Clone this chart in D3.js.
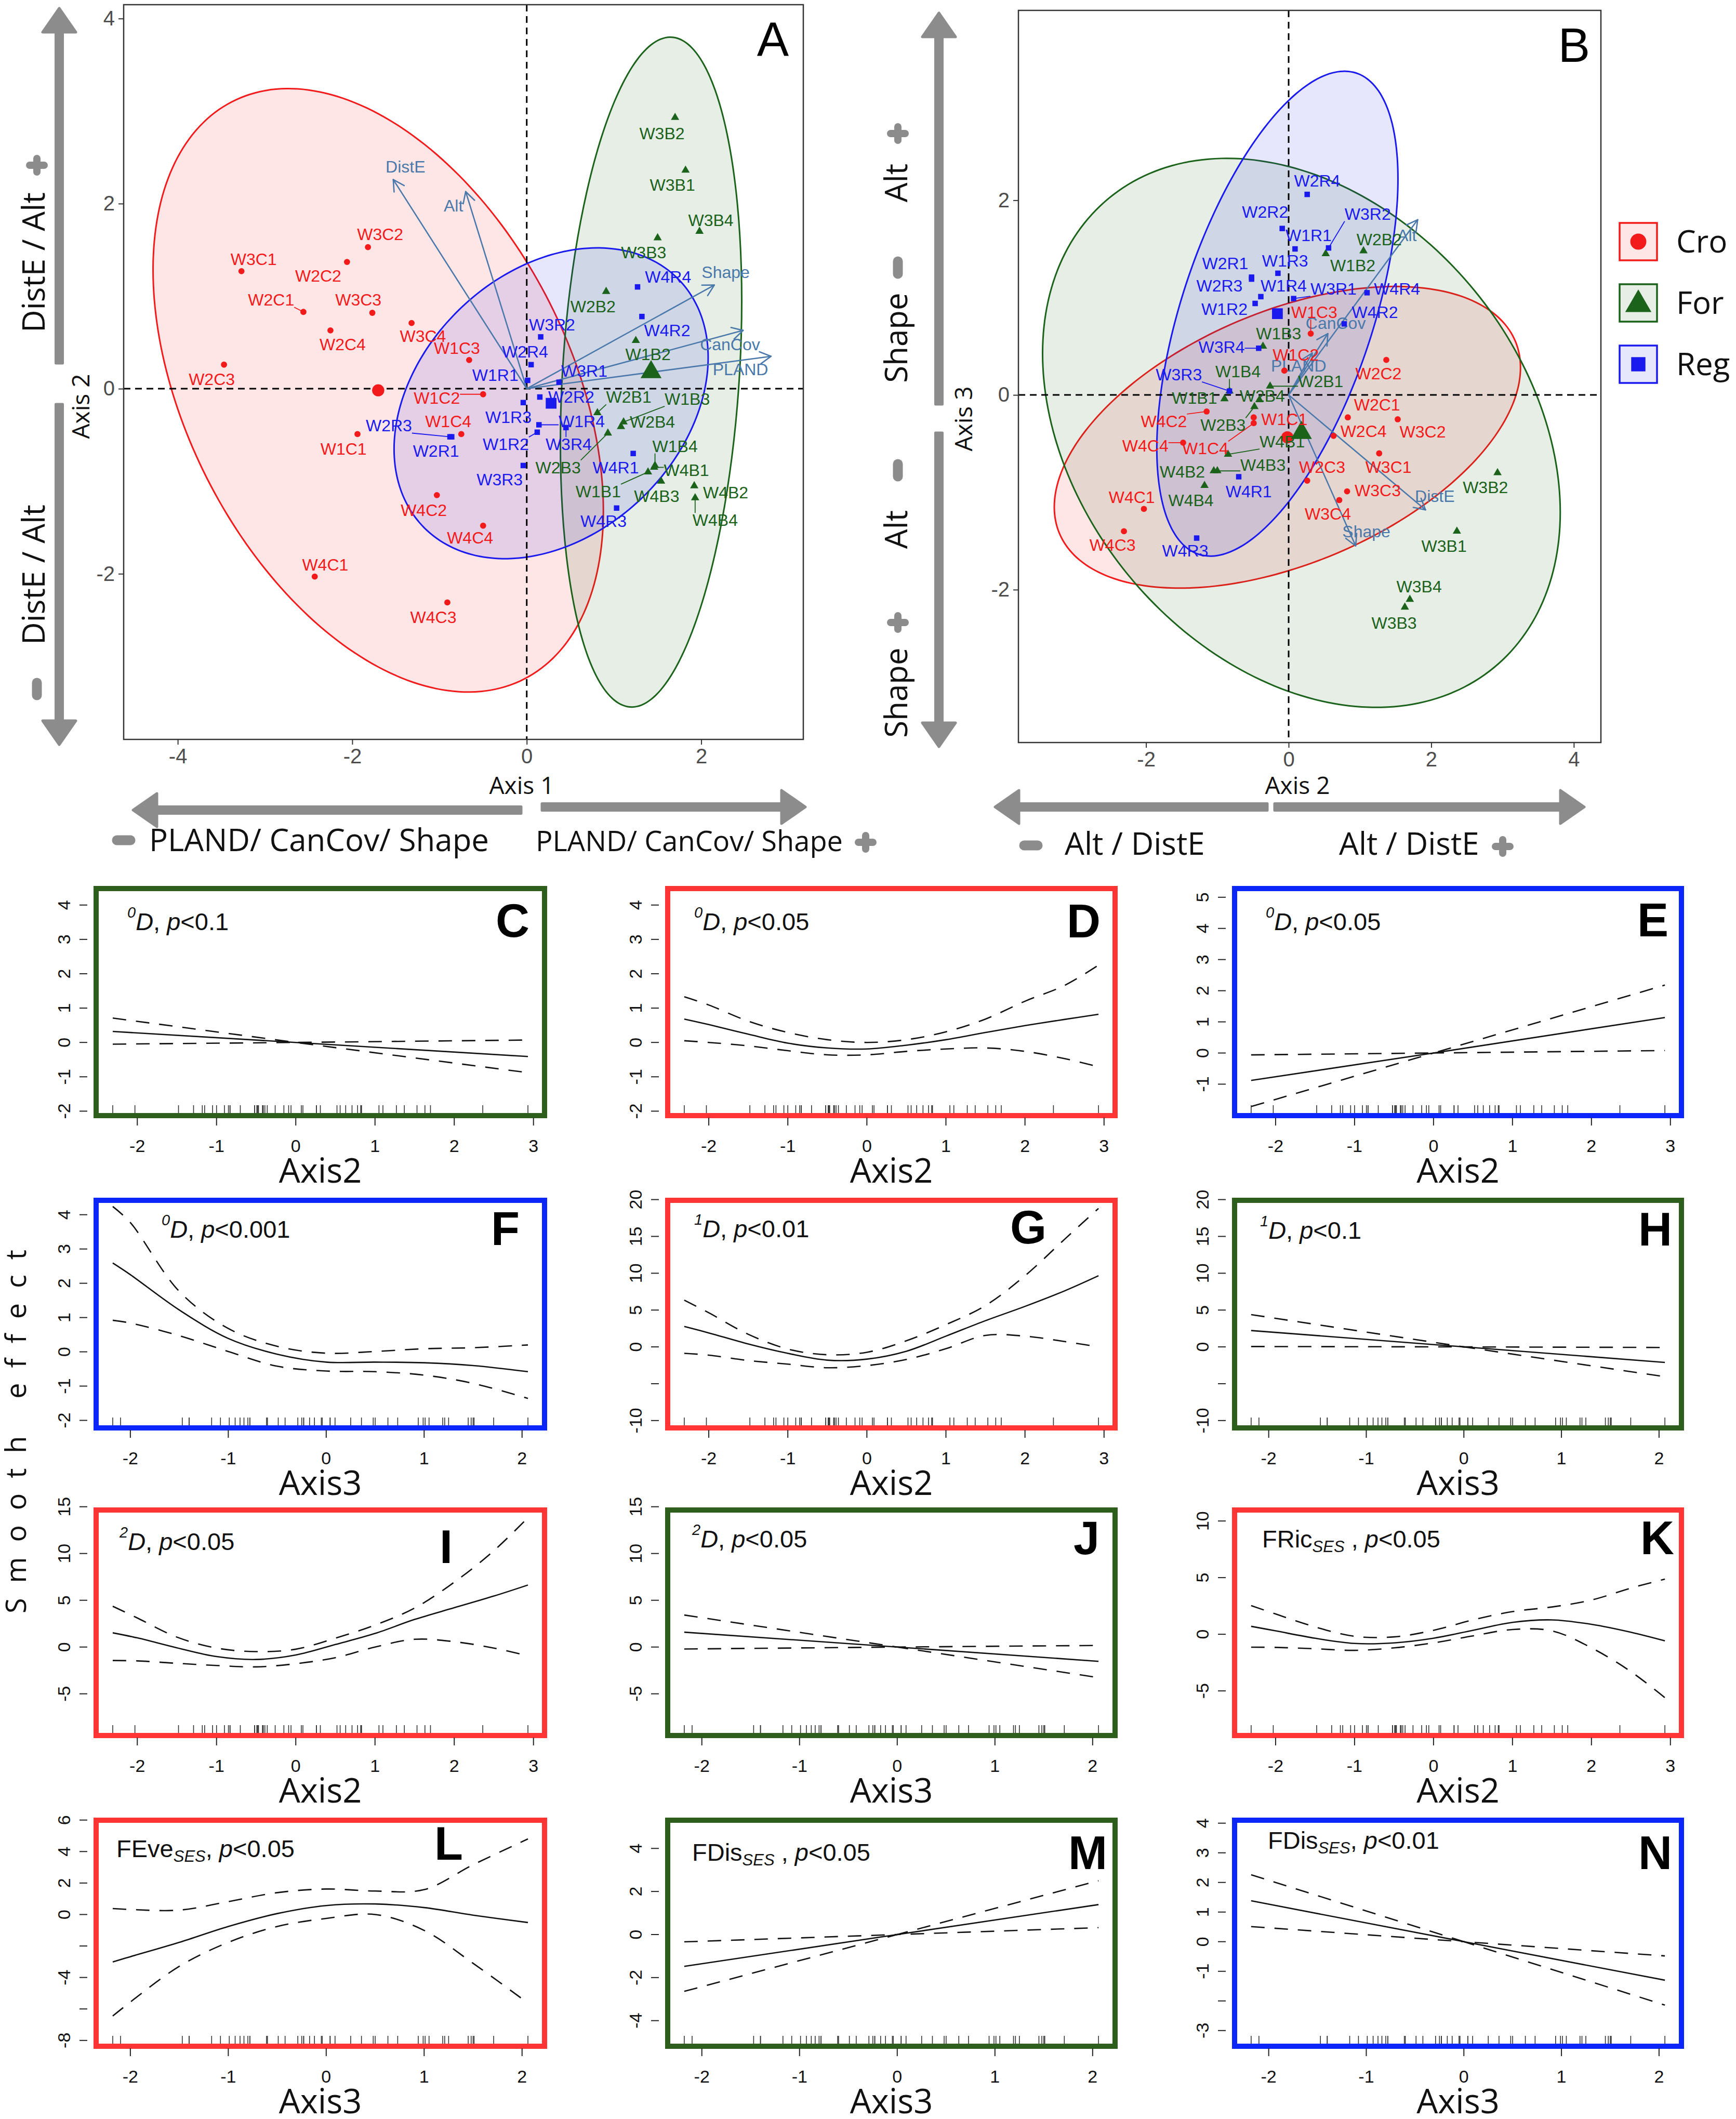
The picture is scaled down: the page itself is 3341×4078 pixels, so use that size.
<!DOCTYPE html>
<html>
<head>
<meta charset="utf-8">
<title>Habitat PCA and smooth effects</title>
<script src="https://cdn.jsdelivr.net/npm/d3@7"></script>
<style>
  body { margin: 0; background: #fff; }
  svg { display: block; }
  text { white-space: pre; font-variant-ligatures: none; }
</style>
</head>
<body>
<svg id="fig" width="3341" height="4078"></svg>
<script>
// site scores on the first three PCA axes: id, habitat, Axis1, Axis2, Axis3
const sites = [
  ["W3C1","Cro",-3.27, 1.27,-0.60], ["W3C2","Cro",-1.82, 1.53,-0.25],
  ["W2C2","Cro",-2.06, 1.37, 0.36], ["W2C1","Cro",-2.56, 0.83,-0.23],
  ["W3C3","Cro",-1.77, 0.82,-0.99], ["W2C4","Cro",-2.25, 0.63,-0.42],
  ["W3C4","Cro",-1.32, 0.71,-1.08], ["W2C3","Cro",-3.47, 0.26,-0.88],
  ["W1C3","Cro",-0.66, 0.31, 0.63], ["W1C2","Cro",-0.50,-0.06, 0.25],
  ["W1C4","Cro",-0.75,-0.49,-0.29], ["W1C1","Cro",-1.94,-0.49,-0.23],
  ["W4C2","Cro",-1.03,-1.15,-0.17], ["W4C4","Cro",-0.50,-1.48,-0.49],
  ["W4C1","Cro",-2.43,-2.03,-1.17], ["W4C3","Cro",-0.91,-2.31,-1.40],
  ["W3B2","For", 1.70, 2.93,-0.80], ["W3B1","For", 1.82, 2.36,-1.40],
  ["W3B4","For", 1.98, 1.70,-2.10], ["W3B3","For", 1.50, 1.63,-2.18],
  ["W2B2","For", 0.91, 1.05, 1.48], ["W1B2","For", 1.25, 0.52, 1.45],
  ["W2B1","For", 0.81,-0.26, 0.09], ["W1B3","For", 1.11,-0.36, 0.50],
  ["W2B4","For", 1.08,-0.41,-0.05], ["W2B3","For", 0.93,-0.48,-0.12],
  ["W1B4","For", 1.47,-0.83, 0.04], ["W4B1","For", 1.46,-0.85,-0.61],
  ["W1B1","For", 1.39,-0.90,-0.04], ["W4B3","For", 1.54,-1.00,-0.78],
  ["W4B2","For", 1.92,-1.05,-0.78], ["W4B4","For", 1.93,-1.18,-0.93],
  ["W4R4","Reg", 1.27, 1.10, 1.05], ["W4R2","Reg", 1.32, 0.78, 0.73],
  ["W3R2","Reg", 0.16, 0.56, 1.51], ["W2R4","Reg", 0.05, 0.26, 2.06],
  ["W1R1","Reg", 0.01, 0.09, 1.50], ["W3R1","Reg", 0.37, 0.07, 0.99],
  ["W2R2","Reg", 0.15,-0.09, 1.71], ["W1R3","Reg",-0.04,-0.15, 1.25],
  ["W1R4","Reg", 0.14,-0.39, 1.01], ["W1R2","Reg", 0.12,-0.47, 0.94],
  ["W3R4","Reg", 0.45,-0.42, 0.48], ["W2R3","Reg",-0.88,-0.52, 1.19],
  ["W2R1","Reg",-0.86,-0.52, 1.21], ["W4R1","Reg", 1.22,-0.70,-0.84],
  ["W3R3","Reg",-0.04,-0.83, 0.04], ["W4R3","Reg", 1.03,-1.29,-1.47]
];

// repelled label spots, in axis units (A: Axis1/Axis2, B: Axis2/Axis3)
const labA = {
  W3C1:[-3.13,1.40], W3C2:[-1.68,1.67], W2C2:[-2.39,1.22], W2C1:[-2.93,0.96],
  W3C3:[-1.93,0.96], W2C4:[-2.11,0.48], W3C4:[-1.19,0.57], W2C3:[-3.61,0.10],
  W1C3:[-0.80,0.44], W1C2:[-1.03,-0.10], W1C4:[-0.90,-0.35], W1C1:[-2.10,-0.65],
  W4C2:[-1.18,-1.31], W4C4:[-0.65,-1.61], W4C1:[-2.31,-1.90], W4C3:[-1.07,-2.47],
  W4R4:[1.62,1.21], W4R2:[1.61,0.63], W3R2:[0.29,0.69], W2R4:[-0.02,0.40],
  W1R1:[-0.36,0.15], W3R1:[0.66,0.19], W2R2:[0.51,-0.09], W1R3:[-0.21,-0.31],
  W1R4:[0.63,-0.35], W1R2:[-0.24,-0.60], W3R4:[0.48,-0.60], W2R3:[-1.58,-0.40],
  W2R1:[-1.04,-0.67], W4R1:[1.02,-0.85], W3R3:[-0.31,-0.98], W4R3:[0.88,-1.43],
  W3B2:[1.55,2.76], W3B1:[1.67,2.20], W3B4:[2.11,1.82], W3B3:[1.34,1.47],
  W2B2:[0.76,0.89], W1B2:[1.39,0.37], W2B1:[1.17,-0.09], W1B3:[1.84,-0.11],
  W2B4:[1.44,-0.36], W2B3:[0.36,-0.85], W1B4:[1.70,-0.62], W4B1:[1.83,-0.88],
  W1B1:[0.82,-1.11], W4B3:[1.49,-1.16], W4B2:[2.28,-1.12], W4B4:[2.16,-1.42]
};
const labB = {
  W1C3:[0.36,0.85], W1C2:[0.10,0.41], W2C2:[1.26,0.22], W2C1:[1.24,-0.10],
  W4C2:[-1.75,-0.27], W1C1:[-0.06,-0.25], W2C4:[1.05,-0.37], W3C2:[1.88,-0.38],
  W4C4:[-2.01,-0.52], W1C4:[-1.17,-0.55], W2C3:[0.47,-0.74], W3C1:[1.40,-0.74],
  W3C3:[1.25,-0.98], W3C4:[0.55,-1.22], W4C1:[-2.20,-1.05], W4C3:[-2.47,-1.54],
  W2R4:[0.40,2.20], W2R2:[-0.33,1.88], W1R1:[0.28,1.64], W3R2:[1.11,1.86],
  W2R1:[-0.89,1.35], W1R3:[-0.05,1.38], W2R3:[-0.97,1.12], W1R4:[-0.07,1.12],
  W3R1:[0.63,1.09], W4R4:[1.52,1.09], W1R2:[-0.90,0.88], W4R2:[1.21,0.85],
  W3R4:[-0.94,0.49], W3R3:[-1.54,0.21], W4R1:[-0.56,-0.99], W4R3:[-1.45,-1.60],
  W2B2:[1.27,1.60], W1B2:[0.90,1.33], W1B3:[-0.14,0.63], W1B4:[-0.71,0.24],
  W2B1:[0.45,0.14], W1B1:[-1.32,-0.03], W2B4:[-0.37,-0.01], W2B3:[-0.92,-0.31],
  W4B1:[-0.09,-0.48], W4B3:[-0.36,-0.72], W4B2:[-1.49,-0.79], W4B4:[-1.37,-1.08],
  W3B2:[2.76,-0.95], W3B1:[2.18,-1.55], W3B4:[1.83,-1.97], W3B3:[1.48,-2.34]
};

// environmental vectors: tip and label spot
const varsA = [
  {v:"DistE",  x:-1.53, y:2.26, lx:-1.39, ly:2.40},
  {v:"Alt",    x:-0.70, y:2.13, lx:-0.84, ly:1.98},
  {v:"Shape",  x: 2.15, y:1.12, lx: 2.28, ly:1.26},
  {v:"CanCov", x: 2.48, y:0.63, lx: 2.33, ly:0.48},
  {v:"PLAND",  x: 2.80, y:0.35, lx: 2.45, ly:0.21}
];
const varsB = [
  {v:"Alt",    x: 1.81, y: 1.80, lx: 1.66, ly: 1.64},
  {v:"CanCov", x: 0.55, y: 0.63, lx: 0.66, ly: 0.74},
  {v:"PLAND",  x: 0.33, y: 0.43, lx: 0.14, ly: 0.30},
  {v:"DistE",  x: 1.92, y:-1.18, lx: 2.05, ly:-1.04},
  {v:"Shape",  x: 0.94, y:-1.55, lx: 1.09, ly:-1.40}
];

// group ellipse spread [var x, var y, cov xy] in axis units
const ellA = { Cro:[6.66,10.63,-3.36], For:[1.08,13.10,0.80], Reg:[3.24,2.82,0.89] };
const ellB = { Cro:[10.69,2.40,2.34], For:[13.18,7.95,-2.96], Reg:[2.86,6.20,2.34] };

// GAM smooths: fit and +-2 se bands
const curveC = {x:[-2.31,0,2.93], fit:[0.32,0,-0.41], hi:[0.71,0,0.07], lo:[-0.05,0,-0.88]};
const curveD = {x:[-2.31,-2,-1.5,-1,-0.5,0,0.5,1,1.5,2,2.5,2.93],
  fit:[0.68,0.52,0.24,-0.02,-0.16,-0.19,-0.08,0.08,0.29,0.49,0.67,0.82],
  hi:[1.33,1.09,0.62,0.29,0.08,0.00,0.08,0.31,0.68,1.20,1.66,2.25],
  lo:[0.05,0.00,-0.10,-0.24,-0.36,-0.36,-0.26,-0.19,-0.16,-0.26,-0.47,-0.71]};
const curveE = {x:[-2.31,0,2.93], fit:[-0.88,0,1.14], hi:[-0.06,0,2.18], lo:[-1.72,0,0.08]};
const curveF = {x:[-2.18,-2,-1.5,-1,-0.5,0,0.5,1,1.5,2.06],
  fit:[2.59,2.25,1.22,0.39,-0.07,-0.30,-0.30,-0.32,-0.40,-0.58],
  hi:[4.24,3.77,1.76,0.68,0.16,-0.04,0.01,0.09,0.12,0.20],
  lo:[0.92,0.84,0.47,0.01,-0.42,-0.56,-0.58,-0.68,-0.92,-1.36]};
const curveG = {x:[-2.31,-2,-1.5,-1,-0.5,0,0.5,1,1.5,2,2.5,2.93],
  fit:[2.78,1.90,0.39,-0.88,-1.80,-1.66,-0.59,1.46,3.56,5.5,7.6,9.66],
  hi:[6.34,4.63,1.71,-0.29,-1.07,-0.73,0.83,3.02,5.61,9.66,14.6,18.8],
  lo:[-0.88,-1.12,-1.85,-2.34,-2.83,-2.54,-1.71,-0.24,1.56,1.46,0.73,0.0]};
const curveH = {x:[-2.18,0,2.06], fit:[2.22,0,-2.11], hi:[4.38,0,-0.08], lo:[0.05,0,-4.05]};
const curveI = {x:[-2.31,-2,-1.5,-1,-0.5,0,0.5,1,1.5,2,2.5,2.93],
  fit:[1.52,0.98,-0.08,-1.02,-1.33,-0.85,0.27,1.45,2.95,4.2,5.45,6.63],
  hi:[4.36,3.11,1.06,-0.11,-0.49,-0.23,0.95,2.35,4.17,6.93,10.30,13.83],
  lo:[-1.44,-1.48,-1.74,-1.97,-2.12,-1.78,-1.14,0.0,0.83,0.57,-0.11,-0.95]};
const curveJ = {x:[-2.18,0,2.06], fit:[1.59,0,-1.53], hi:[3.42,0,0.17], lo:[-0.21,0,-3.27]};
const curveK = {x:[-2.31,-2,-1.5,-1,-0.5,0,0.5,1,1.5,2,2.5,2.93],
  fit:[0.70,0.30,-0.35,-0.81,-0.76,-0.35,0.35,1.05,1.27,0.88,0.18,-0.58],
  hi:[2.53,1.79,0.65,-0.18,-0.23,0.35,1.27,2.00,2.41,3.02,4.08,4.87],
  lo:[-1.14,-1.16,-1.28,-1.42,-1.20,-0.76,-0.14,0.42,0.30,-1.20,-3.30,-5.6]};
const curveL = {x:[-2.18,-2,-1.5,-1,-0.5,0,0.5,1,1.5,2.06],
  fit:[-3.01,-2.68,-1.77,-0.76,0.06,0.57,0.67,0.44,-0.04,-0.51],
  hi:[0.38,0.32,0.28,0.82,1.39,1.62,1.49,1.58,3.16,4.80],
  lo:[-6.45,-5.56,-3.29,-1.77,-0.76,-0.25,0.0,-1.01,-3.10,-5.63]};
const curveM = {x:[-2.18,0,2.06], fit:[-1.48,0,1.39], hi:[-0.34,0,2.50], lo:[-2.64,0,0.32]};
const curveN = {x:[-2.18,0,2.06], fit:[1.38,0,-1.30], hi:[2.26,0,-0.48], lo:[0.51,0,-2.14]};

// y limits of each smooth panel, and the y ticks ("" = label dropped by R)
const yLim = {C:[-2.13,4.48], D:[-2.13,4.48], E:[-2.01,5.28], F:[-2.22,4.42],
  G:[-11.0,19.9], H:[-11.0,19.9], I:[-9.46,14.65], J:[-9.46,14.65],
  K:[-8.94,10.97], L:[-8.37,5.99], M:[-5.19,5.31], N:[-3.53,4.10]};
const yTicks = {
  C:[-2,-1,0,1,2,3,4], D:[-2,-1,0,1,2,3,4], E:[-1,0,1,2,3,4,5], F:[-2,-1,0,1,2,3,4],
  G:[-10,-5,0,5,10,15,20], H:[-10,-5,0,5,10,15,20], I:[-5,0,5,10,15], J:[-5,0,5,10,15],
  K:[-5,0,5,10], L:[-8,-6,-4,-2,0,2,4,6], M:[-4,-2,0,2,4], N:[-3,-2,-1,0,1,2,3,4]};
const yTickLabels = {
  G:["-10","","0","5","10","15","20"], H:["-10","","0","5","10","15","20"],
  L:["-8","","-4","","0","2","4","6"], N:["-3","","-1","0","1","2","3","4"]};
const xTicks = {ax2:[-2,-1,0,1,2,3], ax3:[-2,-1,0,1,2]};

// ---------------------------------------------------------------
const svg = d3.select("#fig");
svg.append("rect").attr("width", 3341).attr("height", 4078).attr("fill", "#fff");

const SANS = "'Liberation Sans', Arial, Helvetica, sans-serif";
const OPEN = "'Open Sans', 'DejaVu Sans', sans-serif";
const groups = ["Cro", "For", "Reg"];
const col = {Cro:"#f21a1a", For:"#1b621b", Reg:"#1a1aee"};
const frameCol = {Cro:"#ff3434", For:"#2e5e1b", Reg:"#0b26fb"};
const shape = {Cro:d3.symbolCircle, For:d3.symbolTriangle, Reg:d3.symbolSquare};
const GRAY = "#8c8c8c";
const site = sites.map(([id, group, ax1, ax2, ax3]) => ({id, group, ax1, ax2, ax3}));

function biplot(o) {
  const g = svg.append("g");
  const x = d3.scaleLinear().domain(o.xdom).range([o.left, o.right]);
  const y = d3.scaleLinear().domain(o.ydom).range([o.bottom, o.top]);
  g.append("clipPath").attr("id", "clip" + o.name).append("rect")
    .attr("x", o.left).attr("y", o.top)
    .attr("width", o.right - o.left).attr("height", o.bottom - o.top);
  const inner = g.append("g").attr("clip-path", `url(#clip${o.name})`);

  // ellipses around the group centroid
  groups.forEach(gr => {
    const mem = site.filter(s => s.group === gr);
    const cx = d3.mean(mem, s => s[o.xk]), cy = d3.mean(mem, s => s[o.yk]);
    const S = o.ell[gr];
    const l11 = Math.sqrt(S[0]), l21 = S[2] / l11, l22 = Math.sqrt(S[1] - l21 * l21);
    const ring = d3.range(0, 360, 3).map(a => {
      const t = a * Math.PI / 180;
      return [cx + l11 * Math.cos(t), cy + l21 * Math.cos(t) + l22 * Math.sin(t)];
    });
    inner.append("path")
      .attr("d", d3.line().x(d => x(d[0])).y(d => y(d[1])).curve(d3.curveCardinalClosed)(ring))
      .attr("fill", col[gr]).attr("fill-opacity", 0.11)
      .attr("stroke", col[gr]).attr("stroke-width", 3);
  });

  // zero lines
  inner.append("line").attr("x1", o.left).attr("x2", o.right).attr("y1", y(0)).attr("y2", y(0))
    .attr("stroke", "#000").attr("stroke-width", 3).attr("stroke-dasharray", "13,9");
  inner.append("line").attr("x1", x(0)).attr("x2", x(0)).attr("y1", o.top).attr("y2", o.bottom)
    .attr("stroke", "#000").attr("stroke-width", 3).attr("stroke-dasharray", "13,9");

  // variable arrows
  const AC = "#4a78aa";
  o.vars.forEach(v => {
    const x0 = x(0), y0 = y(0), x1 = x(v.x), y1 = y(v.y);
    const a = Math.atan2(y1 - y0, x1 - x0);
    inner.append("line").attr("x1", x0).attr("y1", y0).attr("x2", x1).attr("y2", y1)
      .attr("stroke", AC).attr("stroke-width", 2.6);
    [0.5, -0.5].forEach(d => {
      inner.append("line").attr("x1", x1).attr("y1", y1)
        .attr("x2", x1 - 24 * Math.cos(a + d)).attr("y2", y1 - 24 * Math.sin(a + d))
        .attr("stroke", AC).attr("stroke-width", 2.6).attr("stroke-linecap", "round");
    });
    inner.append("text").attr("x", x(v.lx)).attr("y", y(v.ly)).attr("dy", "0.35em")
      .attr("text-anchor", "middle").attr("font-family", SANS).attr("font-size", 32)
      .attr("fill", AC).text(v.v);
  });

  // labels first (to measure), segments under them, then points
  const segG = inner.append("g");
  const ptG = inner.append("g");
  const labG = inner.append("g");
  site.forEach(s => {
    const px = x(s[o.xk]), py = y(s[o.yk]);
    const L = o.lab[s.id];
    const t = labG.append("text").attr("x", x(L[0])).attr("y", y(L[1])).attr("dy", "0.35em")
      .attr("text-anchor", "middle").attr("font-family", SANS).attr("font-size", 32)
      .attr("fill", col[s.group]).text(s.id);
    const b = t.node().getBBox();
    const nx = Math.max(b.x, Math.min(px, b.x + b.width));
    const ny = Math.max(b.y + 4, Math.min(py, b.y + b.height - 4));
    if (Math.hypot(px - nx, py - ny) > 18) {
      segG.append("line").attr("x1", px).attr("y1", py).attr("x2", nx).attr("y2", ny)
        .attr("stroke", col[s.group]).attr("stroke-width", 1.8);
    }
    ptG.append("path").attr("transform", `translate(${px},${py})`)
      .attr("d", d3.symbol().type(shape[s.group]).size(110)()).attr("fill", col[s.group]);
  });
  groups.forEach(gr => {
    const mem = site.filter(s => s.group === gr);
    const cx = d3.mean(mem, s => s[o.xk]), cy = d3.mean(mem, s => s[o.yk]);
    ptG.append("path").attr("transform", `translate(${x(cx)},${y(cy)})`)
      .attr("d", d3.symbol().type(shape[gr]).size(gr === "For" ? 700 : 430)()).attr("fill", col[gr]);
  });

  // axes
  const styleAxis = a => {
    a.select(".domain").remove();
    a.selectAll("line").attr("stroke", "#333").attr("stroke-width", 2);
    a.selectAll("text").attr("font-size", 40).attr("font-family", SANS).attr("fill", "#4d4d4d");
  };
  g.append("g").attr("transform", `translate(0,${o.bottom})`)
    .call(d3.axisBottom(x).tickValues(o.xt).tickFormat(d => String(d)).tickSize(10).tickPadding(8))
    .call(styleAxis);
  g.append("g").attr("transform", `translate(${o.left},0)`)
    .call(d3.axisLeft(y).tickValues(o.yt).tickFormat(d => String(d)).tickSize(10).tickPadding(7))
    .call(styleAxis);
  g.append("rect").attr("x", o.left).attr("y", o.top)
    .attr("width", o.right - o.left).attr("height", o.bottom - o.top)
    .attr("fill", "none").attr("stroke", "#333").attr("stroke-width", 2.5);

  g.append("text").attr("x", o.xTitle[0]).attr("y", o.xTitle[1]).attr("text-anchor", "middle")
    .attr("font-family", OPEN).attr("font-size", 46).attr("fill", "#111").text(o.xLab);
  g.append("text").attr("transform", `translate(${o.yTitle[0]},${o.yTitle[1]}) rotate(-90)`)
    .attr("text-anchor", "middle").attr("font-family", OPEN).attr("font-size", 46)
    .attr("fill", "#111").text(o.yLab);
  g.append("text").attr("x", o.tag[0]).attr("y", o.tag[1]).attr("text-anchor", "end")
    .attr("font-family", SANS).attr("font-size", 92).attr("fill", "#000").text(o.name);
}

biplot({name:"A", left:238, right:1546, top:9, bottom:1423,
  xdom:[-4.62, 3.17], ydom:[-3.79, 4.15], xk:"ax1", yk:"ax2",
  xt:[-4,-2,0,2], yt:[-2,0,2,4], ell:ellA, vars:varsA, lab:labA,
  xLab:"Axis 1", yLab:"Axis 2", xTitle:[1004,1528], yTitle:[172,782], tag:[1518,108]});
biplot({name:"B", left:1960, right:3081, top:20, bottom:1429,
  xdom:[-3.79, 4.38], ydom:[-3.57, 3.95], xk:"ax2", yk:"ax3",
  xt:[-2,0,2,4], yt:[-2,0,2], ell:ellB, vars:varsB, lab:labB,
  xLab:"Axis 2", yLab:"Axis 3", xTitle:[2497,1528], yTitle:[1871,806], tag:[3060,119]});

// legend of panel B
groups.forEach((gr, i) => {
  const cy = 465 + i * 118, cx = 3153;
  svg.append("rect").attr("x", cx - 36).attr("y", cy - 36).attr("width", 72).attr("height", 72)
    .attr("fill", col[gr]).attr("fill-opacity", 0.11).attr("stroke", col[gr]).attr("stroke-width", 3.5);
  svg.append("path").attr("transform", `translate(${cx},${cy + (gr === "For" ? 3 : 0)})`)
    .attr("d", d3.symbol().type(shape[gr]).size(gr === "For" ? 1100 : 750)()).attr("fill", col[gr]);
  svg.append("text").attr("x", 3226).attr("y", cy + 21).attr("font-family", OPEN)
    .attr("font-size", 60).attr("fill", "#111").text(gr);
});

// big grey guide arrows with their captions
function bigArrow(x0, y0, x1, y1) {
  const L = Math.hypot(x1 - x0, y1 - y0), ux = (x1 - x0) / L, uy = (y1 - y0) / L;
  const nx = -uy, ny = ux, bw = 6.5, hw = 32, hl = 46;
  const tx = x1 - ux * 3, ty = y1 - uy * 3;
  const hx = tx - ux * hl, hy = ty - uy * hl;
  const p = [[x0 + nx * bw, y0 + ny * bw], [hx + nx * bw, hy + ny * bw], [hx + nx * hw, hy + ny * hw],
    [tx, ty], [hx - nx * hw, hy - ny * hw], [hx - nx * bw, hy - ny * bw], [x0 - nx * bw, y0 - ny * bw]];
  svg.append("path").attr("d", "M" + p.join("L") + "Z").attr("fill", GRAY)
    .attr("stroke", GRAY).attr("stroke-width", 5).attr("stroke-linejoin", "round");
}
function plusSign(cx, cy) {
  svg.append("path").attr("d", `M${cx - 14},${cy}H${cx + 14}M${cx},${cy - 13}V${cy + 13}`)
    .attr("stroke", GRAY).attr("stroke-width", 14).attr("stroke-linecap", "round");
}
function minusSign(cx, cy, vertical) {
  const d = vertical ? `M${cx},${cy - 12}V${cy + 12}` : `M${cx - 13},${cy}H${cx + 13}`;
  svg.append("path").attr("d", d).attr("stroke", GRAY).attr("stroke-width", 19).attr("stroke-linecap", "round");
}
function caption(x, y, txt, vertical, anchor, size, len) {
  const t = svg.append("text").attr("font-family", OPEN).attr("font-size", size || 60).attr("fill", "#111")
    .attr("text-anchor", anchor || "middle").text(txt);
  if (len) t.attr("textLength", len).attr("lengthAdjust", "spacingAndGlyphs");
  if (vertical) t.attr("transform", `translate(${x},${y}) rotate(-90)`);
  else t.attr("x", x).attr("y", y);
}

bigArrow(114, 699, 114, 13);  bigArrow(114, 778, 114, 1436);
bigArrow(1003, 1559, 253, 1559); bigArrow(1043, 1553, 1553, 1553);
bigArrow(1807, 778, 1807, 22);  bigArrow(1807, 833, 1807, 1440);
bigArrow(2439, 1553, 1912, 1553); bigArrow(2453, 1553, 3052, 1553);

caption(86, 505, "DistE / Alt", true);  plusSign(71, 318);
caption(86, 1106, "DistE / Alt", true); minusSign(71, 1326, true);
minusSign(238, 1617, false); caption(287, 1638, "PLAND/ CanCov/ Shape", false, "start", 60, 654);
caption(1031, 1638, "PLAND/ CanCov/ Shape", false, "start", 54, 591); plusSign(1666, 1621);

caption(1746, 352, "Alt", true);    plusSign(1728, 257);
caption(1746, 650, "Shape", true);  minusSign(1728, 515, true);
caption(1746, 1019, "Alt", true);   minusSign(1728, 905, true);
caption(1746, 1333, "Shape", true); plusSign(1728, 1198);
minusSign(1984, 1627, false); caption(2049, 1645, "Alt / DistE", false, "start");
caption(2577, 1645, "Alt / DistE", false, "start"); plusSign(2892, 1629);

// ---------------- smooth-effect panels ----------------
const colX = [[185, 1048], [1285, 2146], [2376, 3236]];
const rowY = [[1710, 2147], [2310, 2748], [2906, 3340], [3503, 3938]];
const panels = [
  {id:"C", col:0, row:0, axis:"ax2", hab:"For", c:curveC, smooth:false, note:[245,1790], tag:[1019,1803],
   txt:[["0","sup"],["D","it"],[", ",""],["p","it"],["<0.1",""]]},
  {id:"D", col:1, row:0, axis:"ax2", hab:"Cro", c:curveD, smooth:true, note:[1336,1790], tag:[2118,1804],
   txt:[["0","sup"],["D","it"],[", ",""],["p","it"],["<0.05",""]]},
  {id:"E", col:2, row:0, axis:"ax2", hab:"Reg", c:curveE, smooth:false, note:[2436,1790], tag:[3211,1802],
   txt:[["0","sup"],["D","it"],[", ",""],["p","it"],["<0.05",""]]},
  {id:"F", col:0, row:1, axis:"ax3", hab:"Reg", c:curveF, smooth:true, note:[311,2382], tag:[1000,2396],
   txt:[["0","sup"],["D","it"],[", ",""],["p","it"],["<0.001",""]]},
  {id:"G", col:1, row:1, axis:"ax2", hab:"Cro", c:curveG, smooth:true, note:[1336,2381], tag:[2014,2393],
   txt:[["1","sup"],["D","it"],[", ",""],["p","it"],["<0.01",""]]},
  {id:"H", col:2, row:1, axis:"ax3", hab:"For", c:curveH, smooth:false, note:[2425,2384], tag:[3218,2397],
   txt:[["1","sup"],["D","it"],[", ",""],["p","it"],["<0.1",""]]},
  {id:"I", col:0, row:2, axis:"ax2", hab:"Cro", c:curveI, smooth:true, note:[230,2983], tag:[871,3008],
   txt:[["2","sup"],["D","it"],[", ",""],["p","it"],["<0.05",""]]},
  {id:"J", col:1, row:2, axis:"ax3", hab:"For", c:curveJ, smooth:false, note:[1332,2978], tag:[2116,2991],
   txt:[["2","sup"],["D","it"],[", ",""],["p","it"],["<0.05",""]]},
  {id:"K", col:2, row:2, axis:"ax2", hab:"Cro", c:curveK, smooth:true, note:[2429,2978], tag:[3222,2991],
   txt:[["FRic",""],["SES","sub"],[" , ",""],["p","it"],["<0.05",""]]},
  {id:"L", col:0, row:3, axis:"ax3", hab:"Cro", c:curveL, smooth:true, note:[224,3574], tag:[891,3579],
   txt:[["FEve",""],["SES","sub"],[", ",""],["p","it"],["<0.05",""]]},
  {id:"M", col:1, row:3, axis:"ax3", hab:"For", c:curveM, smooth:false, note:[1332,3581], tag:[2131,3597],
   txt:[["FDis",""],["SES","sub"],[" , ",""],["p","it"],["<0.05",""]]},
  {id:"N", col:2, row:3, axis:"ax3", hab:"Reg", c:curveN, smooth:false, note:[2440,3558], tag:[3218,3597],
   txt:[["FDis",""],["SES","sub"],[", ",""],["p","it"],["<0.01",""]]}
];

panels.forEach(p => {
  const [x0, x1] = colX[p.col], [y0, y1] = rowY[p.row];
  const g = svg.append("g");
  const ext = d3.extent(site, s => s[p.axis]), pad = (ext[1] - ext[0]) * 0.04;
  const x = d3.scaleLinear().domain([ext[0] - pad, ext[1] + pad]).range([x0, x1]);
  const y = d3.scaleLinear().domain(yLim[p.id]).range([y1, y0]);

  g.append("clipPath").attr("id", "clip" + p.id).append("rect")
    .attr("x", x0).attr("y", y0).attr("width", x1 - x0).attr("height", y1 - y0);
  const inner = g.append("g").attr("clip-path", `url(#clip${p.id})`);

  const line = k => d3.line().x((d, i) => x(p.c.x[i])).y(d => y(d))
    .curve(p.smooth ? d3.curveCatmullRom.alpha(0.5) : d3.curveLinear)(p.c[k]);
  inner.append("path").attr("d", line("fit")).attr("fill", "none")
    .attr("stroke", "#111").attr("stroke-width", 2.6);
  ["hi", "lo"].forEach(k => inner.append("path").attr("d", line(k)).attr("fill", "none")
    .attr("stroke", "#111").attr("stroke-width", 2.6).attr("stroke-dasharray", "26,19"));

  // rug of the site scores
  inner.selectAll(null).data(site).join("line")
    .attr("x1", s => x(s[p.axis])).attr("x2", s => x(s[p.axis]))
    .attr("y1", y1 - 5).attr("y2", y1 - 20).attr("stroke", "#333").attr("stroke-width", 1.6);

  g.append("rect").attr("x", x0).attr("y", y0).attr("width", x1 - x0).attr("height", y1 - y0)
    .attr("fill", "none").attr("stroke", frameCol[p.hab]).attr("stroke-width", 10);

  // x axis
  xTicks[p.axis].forEach(t => {
    g.append("line").attr("x1", x(t)).attr("x2", x(t)).attr("y1", y1 + 4).attr("y2", y1 + 19)
      .attr("stroke", "#222").attr("stroke-width", 2);
    g.append("text").attr("x", x(t)).attr("y", y1 + 70).attr("text-anchor", "middle")
      .attr("font-family", SANS).attr("font-size", 34).attr("fill", "#111").text(String(t));
  });
  g.append("text").attr("x", (x0 + x1) / 2).attr("y", y1 + 129).attr("text-anchor", "middle")
    .attr("font-family", OPEN).attr("font-size", 65).attr("fill", "#111")
    .text(p.axis === "ax2" ? "Axis2" : "Axis3");

  // y axis, labels parallel to the axis
  const labs = yTickLabels[p.id] || yTicks[p.id].map(String);
  yTicks[p.id].forEach((t, i) => {
    g.append("line").attr("x1", x0 - 32).attr("x2", x0 - 17).attr("y1", y(t)).attr("y2", y(t))
      .attr("stroke", "#222").attr("stroke-width", 2);
    if (labs[i]) g.append("text").attr("transform", `translate(${x0 - 50},${y(t)}) rotate(-90)`)
      .attr("text-anchor", "middle").attr("font-family", SANS).attr("font-size", 34)
      .attr("fill", "#111").text(labs[i]);
  });

  // annotation
  const t = g.append("text").attr("x", p.note[0]).attr("y", p.note[1])
    .attr("font-family", SANS).attr("font-size", 47).attr("fill", "#111");
  let shift = 0;
  p.txt.forEach(([s, kind]) => {
    const want = kind === "sup" ? -24 : kind === "sub" ? 9 : 0;
    const sp = t.append("tspan").attr("dy", want - shift).text(s);
    shift = want;
    if (kind === "sup") sp.attr("font-size", 29).attr("font-style", "italic");
    if (kind === "sub") sp.attr("font-size", 31).attr("font-style", "italic");
    if (kind === "it") sp.attr("font-style", "italic");
  });
  g.append("text").attr("x", p.tag[0]).attr("y", p.tag[1]).attr("text-anchor", "end")
    .attr("font-family", SANS).attr("font-weight", "bold").attr("font-size", 90)
    .attr("fill", "#000").text(p.id);
});

svg.append("text").attr("transform", "translate(50,2755) rotate(-90)").attr("text-anchor", "middle")
  .attr("font-family", OPEN).attr("font-size", 54).attr("fill", "#111")
  .attr("textLength", 700).attr("lengthAdjust", "spacing").text("Smooth effect");
</script>
</body>
</html>
